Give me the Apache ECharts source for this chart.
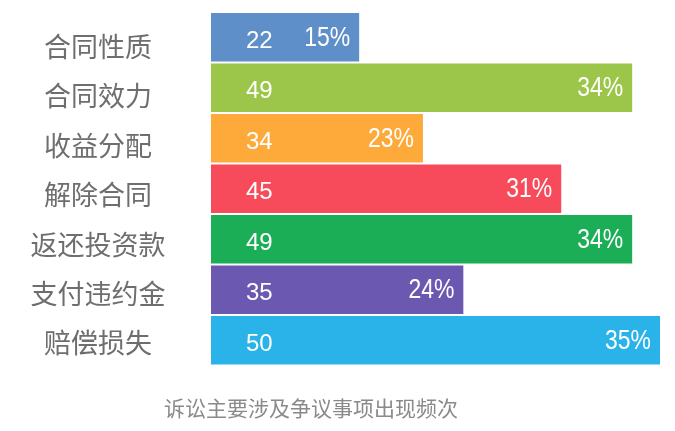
<!DOCTYPE html>
<html>
<head>
<meta charset="utf-8">
<script src="https://cdn.jsdelivr.net/npm/echarts@6/dist/echarts.min.js"></script>
<style>html,body{margin:0;padding:0;background:#fff}#c{width:675px;height:431px}</style>
</head>
<body>
<div id="c"></div>
<script>
var categories = ['合同性质', '合同效力', '收益分配', '解除合同', '返还投资款', '支付违约金', '赔偿损失'];
var counts = [22, 49, 34, 45, 49, 35, 50];
var percents = ['15%', '34%', '23%', '31%', '34%', '24%', '35%'];
// bar lengths as drawn in the picture (axis 0..50)
var barLengths = [16.5, 46.9, 23.6, 39.0, 46.9, 28.1, 50];
var colors = ['#5F8FC8', '#9BC64A', '#FEAA3A', '#F74A5B', '#1BAE57', '#6B58B0', '#2AB3E8'];
var titleText = '诉讼主要涉及争议事项出现频次';

var chart = echarts.init(document.getElementById('c'));
chart.setOption({
  animation: false,
  title: {
    text: titleText,
    left: 159,
    top: 393,
    textStyle: { fontFamily: 'Noto Sans CJK SC', fontSize: 21, fontWeight: 'normal', color: '#8a8a8a' }
  },
  grid: [
    { left: 211, width: 449, top: 12, height: 353.5 },
    { left: 211, width: 449, top: 22, height: 345.8 }
  ],
  xAxis: [
    { type: 'value', min: 0, max: 50, show: false, gridIndex: 0 },
    { type: 'value', min: 0, max: 50, show: false, gridIndex: 1 }
  ],
  yAxis: [
    { type: 'category', data: categories, inverse: true, gridIndex: 0, show: false },
    {
      type: 'category', data: categories, inverse: true, gridIndex: 1,
      axisLine: { show: false }, axisTick: { show: false },
      axisLabel: {
        align: 'center', margin: 113,
        fontFamily: 'Noto Sans CJK SC', fontSize: 27, color: '#6e6e6e'
      }
    }
  ],
  series: [
    {
      type: 'bar',
      data: barLengths.map(function (v, i) { return { value: v, itemStyle: { color: colors[i] } }; }),
      barCategoryGap: '4%',
      label: {
        show: true, position: 'insideLeft', distance: 35,
        formatter: function (p) { return counts[p.dataIndex]; },
        color: '#fff', fontFamily: 'Liberation Sans', fontSize: 24,
        offset: [0, 4]
      }
    },
    {
      type: 'custom',
      silent: true,
      z: 10,
      xAxisIndex: 0,
      yAxisIndex: 0,
      encode: { x: 0, y: 1 },
      data: barLengths.map(function (v, i) { return [v, categories[i]]; }),
      renderItem: function (params, api) {
        var pt = api.coord([api.value(0), params.dataIndex]);
        return {
          type: 'text',
          x: pt[0] - 9,
          y: pt[1] + 1,
          scaleX: 0.82,
          z2: 100,
          style: {
            text: percents[params.dataIndex],
            fill: '#ffffff',
            fontSize: 28,
            fontFamily: 'Liberation Sans',
            textAlign: 'right',
            textVerticalAlign: 'middle',
            align: 'right',
            verticalAlign: 'middle'
          }
        };
      }
    }
  ]
});
</script>
</body>
</html>
